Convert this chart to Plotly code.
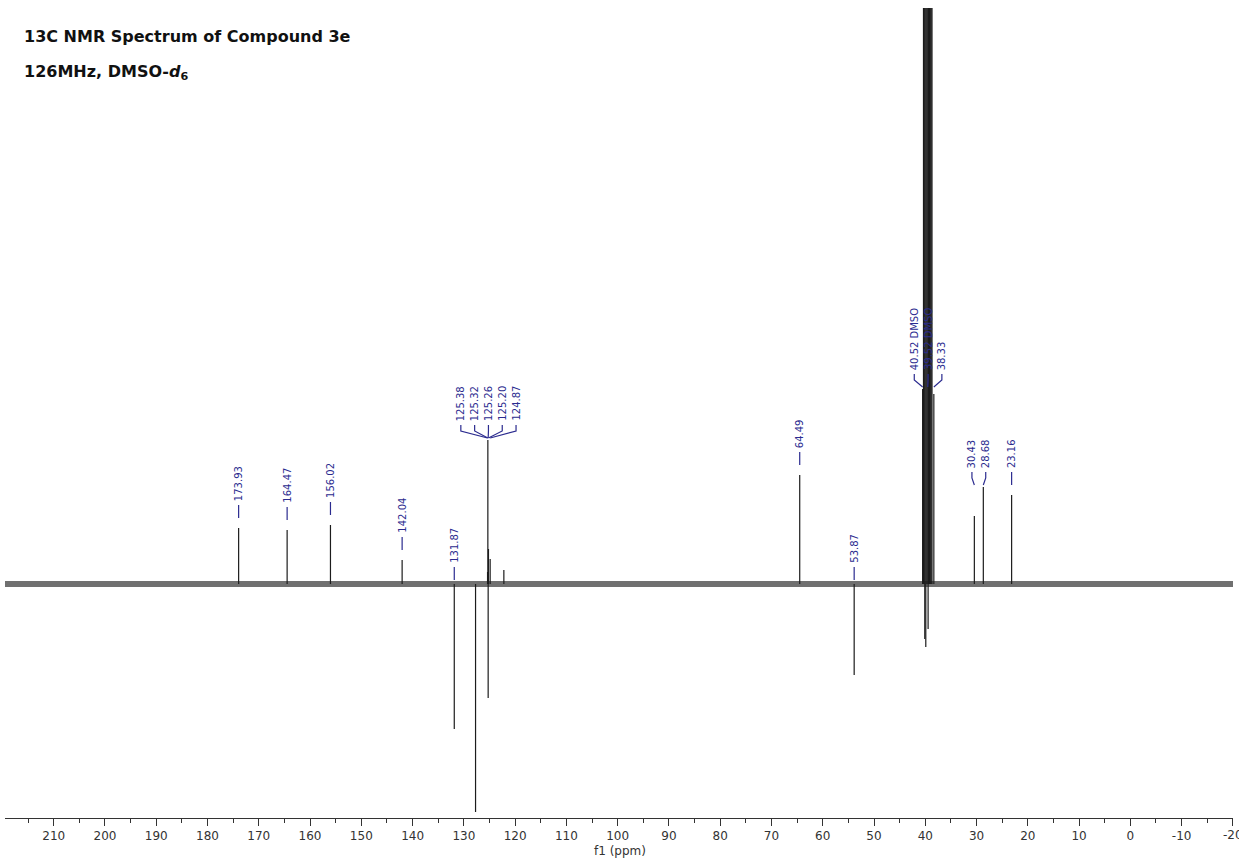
import plotly.graph_objects as go

# ---------------- data ----------------
peak_ppm = [173.93, 164.47, 156.02, 142.04, 131.87, 127.72,
            125.38, 125.32, 125.26, 125.20, 124.87, 122.20,
            64.49, 53.87,
            40.52, 40.35, 40.19, 40.02, 39.85, 39.69, 39.52, 39.35,
            39.19, 39.02, 38.85, 38.69, 38.33, 40.10, 39.90, 39.45,
            30.43, 28.68, 23.16]
peak_int = [0.56, 0.54, 0.59, 0.24, -1.45, -2.28,
            0.12, 1.44, -1.14, 0.35, 0.25, 0.14,
            1.09, -0.91,
            1.95, 7.0, 8.0, 9.0, 9.0, 9.0, 9.0, 9.0,
            9.0, 8.0, 7.0, 6.5, 1.90, -0.55, -0.63, -0.45,
            0.68, 0.97, 0.89]

single_labels = ["173.93", "164.47", "156.02", "142.04", "131.87",
                 "64.49", "53.87", "23.16"]
group_labels = [["125.38", "125.32", "125.26", "125.20", "124.87"],
                ["40.52 DMSO", "39.52 DMSO", "38.33"],
                ["30.43", "28.68"]]

x_ticks = list(range(210, -30, -10))

# ---------------- figure ----------------
X_LEFT, X_RIGHT = 219.5, -20.02
Y_LOW, Y_HIGH = -2.34, 5.76
PX_PER_PPM = 1228 / (X_LEFT - X_RIGHT)
LABEL_BLUE = "#2b2b8f"
SPEC = "#1c1c1c"

fig = go.Figure()

# baseline (noise band)
fig.add_trace(go.Scatter(x=[X_LEFT, X_RIGHT], y=[0, 0], mode="lines",
                         line=dict(color="rgba(25,25,25,0.62)", width=6),
                         hoverinfo="skip", showlegend=False))

# peaks as sticks
xs, ys = [], []
for p, h in zip(peak_ppm, peak_int):
    xs += [p, p, None]
    ys += [0, h, None]
fig.add_trace(go.Scatter(x=xs, y=ys, mode="lines",
                         line=dict(color=SPEC, width=1.2),
                         hoverinfo="skip", showlegend=False))


def height_at(ppm):
    best = min(range(len(peak_ppm)), key=lambda i: abs(peak_ppm[i] - ppm))
    return peak_int[best]


shapes = []
annotations = []


def add_text(x, y, text):
    annotations.append(dict(x=x, y=y, xref="x", yref="y", text=text,
                            textangle=-90, showarrow=False,
                            xanchor="center", yanchor="bottom",
                            font=dict(family="DejaVu Sans", size=10,
                                      color=LABEL_BLUE)))


for lab in single_labels:
    p = float(lab.split()[0])
    top = max(height_at(p), 0) + (0.10 if height_at(p) > 0 else 0.04)
    shapes.append(dict(type="line", xref="x", yref="y", x0=p, x1=p,
                       y0=top, y1=top + 0.13,
                       line=dict(color=LABEL_BLUE, width=1.2)))
    add_text(p, top + 0.15, lab)

for grp in group_labels:
    ppms = [float(l.split()[0]) for l in grp]
    hs = [height_at(p) for p in ppms]
    on_scale = [h for h in hs if h < 3]
    gtop = max(on_scale)
    center = sum(ppms) / len(ppms)
    spacing = 13.8 / PX_PER_PPM
    n = len(grp)
    for i, (lab, p) in enumerate(zip(grp, ppms)):
        lx = center + ((n - 1) / 2 - i) * spacing
        end_y = gtop + 0.02
        knee = gtop + 0.09
        ltop = gtop + 0.15
        path = f"M {p},{end_y} L {lx},{knee} L {lx},{ltop}"
        shapes.append(dict(type="path", xref="x", yref="y", path=path,
                           line=dict(color=LABEL_BLUE, width=1.2)))
        add_text(lx, gtop + 0.17, lab)

# titles (pixel positions converted to paper coords)
for px, py, txt in [(22, 37, "<b>13C NMR Spectrum of Compound 3e</b>"),
                    (22, 72, "<b>126MHz, DMSO-<i>d</i><sub>6</sub></b>")]:
    annotations.append(dict(x=(px - 5) / 1228, y=(818 - py) / 810,
                            xref="paper", yref="paper", text=txt,
                            showarrow=False, xanchor="left",
                            yanchor="middle",
                            font=dict(family="DejaVu Sans", size=16,
                                      color="#111111")))

annotations.append(dict(x=(620 - 5) / 1228, y=-(851 - 818) / 810,
                        xref="paper", yref="paper", text="f1 (ppm)",
                        showarrow=False, xanchor="center", yanchor="middle",
                        font=dict(family="DejaVu Sans", size=12,
                                  color="#333333")))

# last tick label at the right edge (partly cut off, as in the original)
annotations.append(dict(x=x_ticks[-1], y=-(835 - 818) / 810,
                        xref="x", yref="paper", text=str(x_ticks[-1]),
                        showarrow=False, xanchor="center", yanchor="middle",
                        font=dict(family="DejaVu Sans", size=12,
                                  color="#333333")))

fig.update_layout(
    width=1239, height=865,
    margin=dict(l=5, r=6, t=8, b=47),
    paper_bgcolor="white", plot_bgcolor="white",
    shapes=shapes, annotations=annotations,
    showlegend=False,
    xaxis=dict(range=[X_LEFT, X_RIGHT], tickmode="array",
               tickvals=x_ticks, ticktext=[str(v) for v in x_ticks],
               ticks="outside", ticklen=7, tickcolor="#333333",
               showline=True, linecolor="#333333", linewidth=1,
               showgrid=False, zeroline=False,
               tickfont=dict(family="DejaVu Sans", size=12,
                             color="#333333"),
               minor=dict(tickvals=[v + 5 for v in x_ticks if v + 5 < X_LEFT],
                          ticks="outside", ticklen=4,
                          tickcolor="#333333")),
    yaxis=dict(range=[Y_LOW, Y_HIGH], visible=False, showgrid=False,
               zeroline=False),
)

fig.write_html("out.html",
               config={"displayModeBar": False},
               post_script="document.body.style.margin='0px';"
                           "document.body.style.overflow='hidden';")
